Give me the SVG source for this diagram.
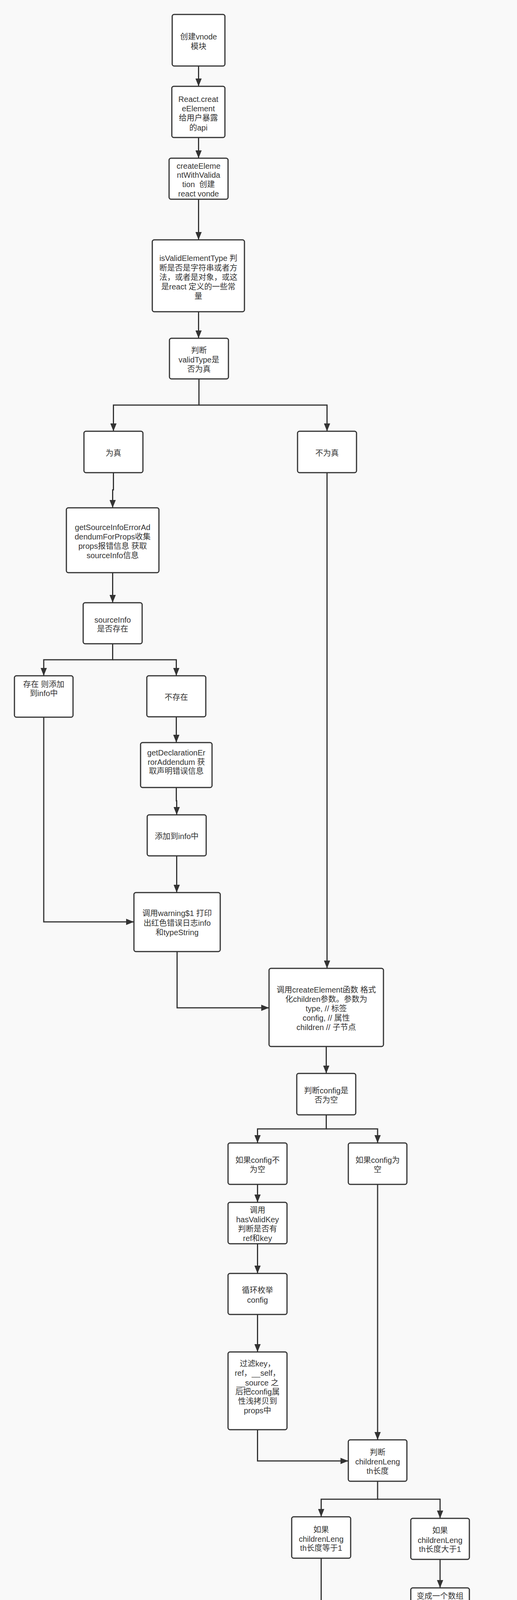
<svg xmlns="http://www.w3.org/2000/svg" width="1324" height="6312" viewBox="0 0 1324 6312">
<style>
.bg{fill:#f9f9f9}
.node rect{fill:#ffffff;stroke:#333333;stroke-width:3}
.node text{font-family:"Liberation Sans","Noto Sans CJK SC",sans-serif;font-size:20px;fill:#333333;text-anchor:middle}
.node text.code{text-anchor:start}
.edges path{fill:none;stroke:#333333;stroke-width:3}
.edges path.arr{marker-end:url(#ah)}
</style>
<defs>
<marker id="ah" markerUnits="userSpaceOnUse" markerWidth="20" markerHeight="16" refX="20" refY="8" orient="auto">
<path d="M0,0 L20,8 L0,16 z" fill="#333333"/>
</marker>
</defs>
<rect class="bg" x="0" y="0" width="1324" height="6312"/>

<g id="connectors" class="edges">
<path class="arr" d="M508.5,169 V221"/>
<path class="arr" d="M508.5,352 V405"/>
<path class="arr" d="M508.5,510 V614"/>
<path class="arr" d="M508.5,798 V866"/>
<path class="arr" d="M509.5,970 V1037 H290.5 V1104"/>
<path class="arr" d="M509.5,1037 H837.5 V1104"/>
<path class="arr" d="M290.5,1210 V1254 H288.5 V1300"/>
<path class="arr" d="M288.5,1466 V1543"/>
<path class="arr" d="M288.5,1648 V1689 H112 V1730"/>
<path class="arr" d="M288.5,1689 H451.5 V1730"/>
<path class="arr" d="M112,1836 V2360 H343"/>
<path class="arr" d="M451.5,1835 V1901"/>
<path class="arr" d="M451.5,2016 V2050 H452.5 V2086"/>
<path class="arr" d="M452.5,2191 V2285"/>
<path class="arr" d="M453.5,2436 V2580 H689"/>
<path class="arr" d="M837.5,1210 V2479"/>
<path class="arr" d="M835.5,2679 V2748"/>
<path class="arr" d="M835.5,2854 V2890 H659.5 V2926"/>
<path class="arr" d="M835.5,2890 H967 V2926"/>
<path class="arr" d="M659.5,3032 V3078"/>
<path class="arr" d="M659.5,3184 V3260"/>
<path class="arr" d="M659.5,3365 V3461"/>
<path class="arr" d="M659.5,3660 V3740 H892"/>
<path class="arr" d="M967,3032 V3686"/>
<path class="arr" d="M967,3792 V3838 H822.5 V3883"/>
<path class="arr" d="M967,3838 H1127 V3887"/>
<path class="arr" d="M1127,3992 V4065"/>
<path class="arr" d="M822.5,3989 V4317"/>
<path d="M1127,4171 V4244 H822.5"/>
<path class="arr" d="M822.5,4422 V4499"/>
<path class="arr" d="M822.5,4605 V4664 H659.5 V4724"/>
<path class="arr" d="M822.5,4664 H981.5 V4724"/>
<path class="arr" d="M981.5,4830 V4923"/>
<path class="arr" d="M981.5,5029 V5124"/>
<path class="arr" d="M981.5,5229 V5317"/>
<path class="arr" d="M981.5,5473 V5604"/>
<path class="arr" d="M981.5,5739 V5848"/>
</g>

<g id="n1" class="node"><rect x="441" y="37" width="135" height="132" rx="5"/>
<text x="508.5" y="101">创建vnode</text><text x="508.5" y="126">模块</text></g>

<g id="n2" class="node"><rect x="440" y="221" width="136" height="131" rx="5"/>
<text x="508" y="261">React.creat</text><text x="508" y="285">eElement</text><text x="508" y="309">给用户暴露</text><text x="508" y="334">的api</text></g>

<g id="n3" class="node"><rect x="433" y="405" width="151" height="105" rx="5"/>
<text x="508.5" y="432">createEleme</text><text x="508.5" y="455">ntWithValida</text><text x="508.5" y="479" xml:space="preserve">tion  创建</text><text x="508.5" y="503">react vonde</text></g>

<g id="n4" class="node"><rect x="390" y="614" width="236" height="184" rx="5"/>
<text x="508" y="668">isValidElementType 判</text><text x="508" y="693">断是否是字符串或者方</text><text x="508" y="717">法，或者是对象，或这</text><text x="508" y="741">是react 定义的一些常</text><text x="508" y="765">量</text></g>

<g id="n5" class="node"><rect x="434" y="866" width="151" height="104" rx="5"/>
<text x="509.5" y="904">判断</text><text x="509.5" y="928">validType是</text><text x="509.5" y="952">否为真</text></g>

<g id="n6" class="node"><rect x="215" y="1104" width="151" height="106" rx="5"/>
<text x="290.5" y="1167">为真</text></g>

<g id="n7" class="node"><rect x="762" y="1104" width="151" height="106" rx="5"/>
<text x="837.5" y="1167">不为真</text></g>

<g id="n8" class="node"><rect x="170" y="1300" width="237" height="166" rx="5"/>
<text x="288.5" y="1357">getSourceInfoErrorAd</text><text x="288.5" y="1381">dendumForProps收集</text><text x="288.5" y="1405">props报错信息 获取</text><text x="288.5" y="1429">sourceInfo信息</text></g>

<g id="n9" class="node"><rect x="213" y="1543" width="151" height="105" rx="5"/>
<text x="288.5" y="1594">sourceInfo</text><text x="288.5" y="1617">是否存在</text></g>

<g id="n10" class="node"><rect x="37" y="1730" width="150" height="106" rx="5"/>
<text x="112" y="1759">存在 则添加</text><text x="112" y="1782">到info中</text></g>

<g id="n11" class="node"><rect x="376" y="1730" width="151" height="105" rx="5"/>
<text x="451.5" y="1792">不存在</text></g>

<g id="n12" class="node"><rect x="360" y="1901" width="183" height="115" rx="5"/>
<text x="451.5" y="1934">getDeclarationEr</text><text x="451.5" y="1958">rorAddendum 获</text><text x="451.5" y="1981">取声明错误信息</text></g>

<g id="n13" class="node"><rect x="377" y="2086" width="151" height="105" rx="5"/>
<text x="452.5" y="2148">添加到info中</text></g>

<g id="n14" class="node"><rect x="343" y="2285" width="221" height="151" rx="5"/>
<text x="453.5" y="2345">调用warning$1 打印</text><text x="453.5" y="2370">出红色错误日志info</text><text x="453.5" y="2394">和typeString</text></g>

<g id="n15" class="node"><rect x="689" y="2479" width="293" height="200" rx="5"/>
<text x="835.5" y="2541">调用createElement函数 格式</text><text x="835.5" y="2565">化children参数。参数为</text><text x="835.5" y="2589">type, // 标签</text><text x="835.5" y="2613">config, // 属性</text><text x="835.5" y="2637">children // 子节点</text></g>

<g id="n16" class="node"><rect x="760" y="2748" width="151" height="106" rx="5"/>
<text x="835.5" y="2799">判断config是</text><text x="835.5" y="2823">否为空</text></g>

<g id="n17" class="node"><rect x="584" y="2926" width="151" height="106" rx="5"/>
<text x="659.5" y="2977">如果config不</text><text x="659.5" y="3001">为空</text></g>

<g id="n18" class="node"><rect x="892" y="2926" width="150" height="106" rx="5"/>
<text x="967" y="2977">如果config为</text><text x="967" y="3001">空</text></g>

<g id="n19" class="node"><rect x="584" y="3078" width="151" height="106" rx="5"/>
<text x="659.5" y="3105">调用</text><text x="659.5" y="3129">hasValidKey</text><text x="659.5" y="3153">判断是否有</text><text x="659.5" y="3177">ref和key</text></g>

<g id="n20" class="node"><rect x="584" y="3260" width="151" height="105" rx="5"/>
<text x="659.5" y="3310">循环枚举</text><text x="659.5" y="3335">config</text></g>

<g id="n21" class="node"><rect x="584" y="3461" width="151" height="199" rx="5"/>
<text x="659.5" y="3498">过滤key，</text><text x="659.5" y="3522">ref，__self，</text><text x="659.5" y="3547">__source 之</text><text x="659.5" y="3570">后把config属</text><text x="659.5" y="3594">性浅拷贝到</text><text x="659.5" y="3618">props中</text></g>

<g id="n22" class="node"><rect x="892" y="3686" width="150" height="106" rx="5"/>
<text x="967" y="3725">判断</text><text x="967" y="3749">childrenLeng</text><text x="967" y="3773">th长度</text></g>

<g id="n23" class="node"><rect x="747" y="3883" width="151" height="106" rx="5"/>
<text x="822.5" y="3923">如果</text><text x="822.5" y="3947">childrenLeng</text><text x="822.5" y="3970">th长度等于1</text></g>

<g id="n24" class="node"><rect x="1052" y="3887" width="150" height="105" rx="5"/>
<text x="1127" y="3925">如果</text><text x="1127" y="3950">childrenLeng</text><text x="1127" y="3973">th长度大于1</text></g>

<g id="n25" class="node"><rect x="1052" y="4065" width="150" height="106" rx="5"/>
<text x="1127" y="4093">变成一个数组</text><text x="1127" y="4117">之后挂在在</text><text x="1127" y="4141">props.childre</text><text x="1127" y="4164">n中</text></g>

<g id="n26" class="node"><rect x="747" y="4317" width="151" height="105" rx="5"/>
<text x="822.5" y="4343">children直接</text><text x="822.5" y="4367">挂在</text><text x="822.5" y="4391">props.childre</text><text x="822.5" y="4415">n</text></g>

<g id="n27" class="node"><rect x="747" y="4499" width="151" height="106" rx="5"/>
<text x="822.5" y="4538">判断组件有没</text><text x="822.5" y="4563">有</text><text x="822.5" y="4586">defaultProps</text></g>

<g id="n28" class="node"><rect x="584" y="4724" width="151" height="106" rx="5"/>
<text x="659.5" y="4776">如果没有</text><text x="659.5" y="4799">defaultProps</text></g>

<g id="n29" class="node"><rect x="906" y="4724" width="151" height="106" rx="5"/>
<text x="981.5" y="4777">如果有</text><text x="981.5" y="4800">defaultProps</text></g>

<g id="n30" class="node"><rect x="906" y="4923" width="151" height="106" rx="5"/>
<text x="981.5" y="4962">枚举循环到</text><text x="981.5" y="4986">props中</text></g>

<g id="n31" class="node"><rect x="906" y="5124" width="151" height="105" rx="5"/>
<text x="981.5" y="5175">判断是否有</text><text x="981.5" y="5199">key和ref</text></g>

<g id="n32" class="node"><rect x="792" y="5317" width="379" height="156" rx="5"/>
<text x="981.5" y="5356">如果有key或ref 把</text><text x="981.5" y="5381">他 Object.defineProperty 不允许访问</text><text x="981.5" y="5405">key和ref，意思是在props中是访问不到</text><text x="981.5" y="5428">key和ref，否则会有警告日志</text></g>

<g id="n33" class="node"><rect x="864" y="5604" width="236" height="135" rx="5"/>
<text x="982" y="5658">调用ReactElement和返</text><text x="982" y="5682">回ReactElement执行的</text><text x="982" y="5706">结果</text></g>

<g id="n34" class="node"><rect x="677" y="5848" width="609" height="428" rx="5"/>
<text class="code" x="692" y="5891">ReactElement返回的element对象为：</text>
<text class="code" x="692" y="5915">var element = {</text>
<text class="code" x="732" y="5939">// This tag allows us to uniquely identify this as a React</text>
<text class="code" x="692" y="5963">Element</text>
<text class="code" x="732" y="5987">// 这个标记允许我们唯一地将其标识为React元素</text>
<text class="code" x="732" y="6011">$$typeof: REACT_ELEMENT_TYPE,</text>
<text class="code" x="732" y="6035">// Built-in properties that belong on the element 属于元素</text>
<text class="code" x="692" y="6059">的内置属性</text>
<text class="code" x="732" y="6084">type: type, // 标签名词比如 &lt;h1&gt;</text>
<text class="code" x="732" y="6108">key: key, // 标签key</text>
<text class="code" x="732" y="6132">ref: ref, // ref属性</text>
<text class="code" x="732" y="6156">props: props, // pros 属性</text>
<text class="code" x="732" y="6180">// Record the component responsible for creating this</text>
<text class="code" x="692" y="6204">element.</text>
<text class="code" x="732" y="6228">_owner: owner, //记录负责创建此元素的组件。</text>
<text class="code" x="719" y="6252">};</text>
</g>
</svg>
